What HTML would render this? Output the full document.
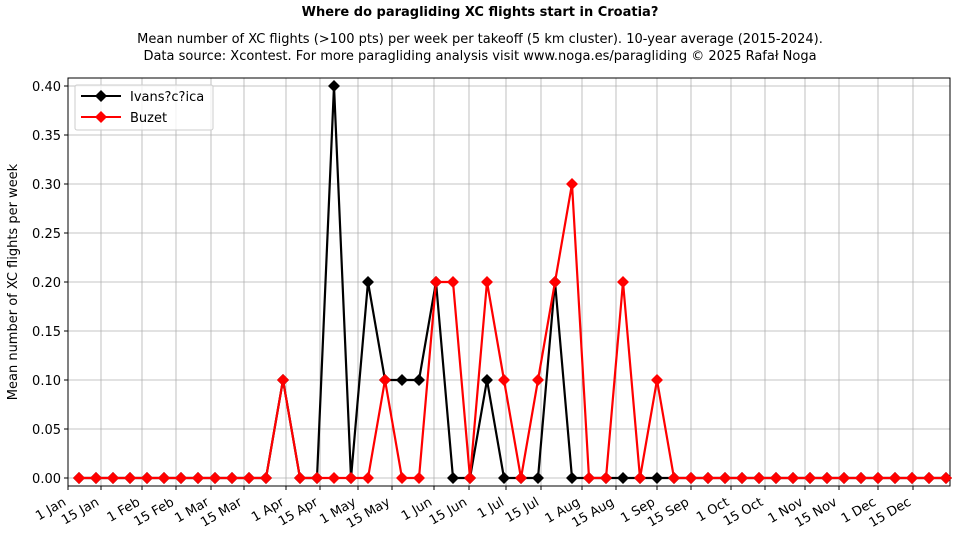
<!DOCTYPE html>
<html><head><meta charset="utf-8"><style>body{margin:0;background:#fff}svg{display:block}</style></head><body>
<svg width="960" height="540" xmlns="http://www.w3.org/2000/svg" font-family="'DejaVu Sans','Liberation Sans',sans-serif">
<text x="480" y="16" text-anchor="middle" font-size="13" font-weight="bold">Where do paragliding XC flights start in Croatia?</text>
<text x="480" y="43" text-anchor="middle" font-size="13">Mean number of XC flights (&gt;100 pts) per week per takeoff (5 km cluster). 10-year average (2015-2024).</text>
<text x="480" y="60" text-anchor="middle" font-size="13">Data source: Xcontest. For more paragliding analysis visit www.noga.es/paragliding © 2025 Rafał Noga</text>
<g id="grid" stroke="#b0b0b0" stroke-width="0.8"></g>
<g id="ticks" font-size="13"></g>
<rect x="68" y="78" width="882" height="408" fill="none" stroke="#000" stroke-width="1"/>
<text transform="translate(17,282) rotate(-90)" text-anchor="middle" font-size="13">Mean number of XC flights per week</text>
<g id="series"></g>
<rect x="75" y="85" width="138" height="45" fill="#fff" fill-opacity="0.8" stroke="#ccc" rx="2"/>
<line x1="81" y1="96" x2="121" y2="96" stroke="#000" stroke-width="2"/><path d="M101 90l6 6-6 6-6-6z" fill="#000"/>
<text x="130" y="101" font-size="13">Ivans?c?ica</text>
<line x1="81" y1="117" x2="121" y2="117" stroke="red" stroke-width="2"/><path d="M101 111l6 6-6 6-6-6z" fill="red"/>
<text x="130" y="122" font-size="13">Buzet</text>
</svg>
<script>
const NS="http://www.w3.org/2000/svg";
function el(p,t,a,txt){const e=document.createElementNS(NS,t);for(const k in a)e.setAttribute(k,a[k]);if(txt!==undefined)e.textContent=txt;document.getElementById(p).appendChild(e);return e;}
const Y=v=>478-v*980;
for(let i=0;i<=8;i++){const v=i*0.05,y=Y(v);el('grid','line',{x1:68,x2:950,y1:y,y2:y});
el('ticks','line',{x1:64,x2:68,y1:y,y2:y,stroke:'#000'});el('ticks','text',{x:61,y:y+5,'text-anchor':'end'},v.toFixed(2));}
const xt=[[68,'1 Jan'],[101,'15 Jan'],[142,'1 Feb'],[176,'15 Feb'],[211,'1 Mar'],[244,'15 Mar'],[286,'1 Apr'],[320,'15 Apr'],[358,'1 May'],[392,'15 May'],[434,'1 Jun'],[469,'15 Jun'],[506,'1 Jul'],[541,'15 Jul'],[582,'1 Aug'],[616,'15 Aug'],[657,'1 Sep'],[691,'15 Sep'],[731,'1 Oct'],[765,'15 Oct'],[805,'1 Nov'],[839,'15 Nov'],[878,'1 Dec'],[913,'15 Dec']];
xt.forEach(([x,l])=>{el('grid','line',{x1:x,x2:x,y1:78,y2:486});el('ticks','line',{x1:x,x2:x,y1:486,y2:490,stroke:'#000'});
const ax=x-6,ay=496;
el('ticks','text',{x:ax,y:ay,dy:'0.75em','text-anchor':'end',transform:`rotate(-30 ${ax} ${ay})`},l);});
const X=i=>79+17*i;
function series(m,c){const d=[];for(let i=0;i<52;i++)d.push([X(i),Y(m[i]||0)]);
el('series','polyline',{points:d.map(p=>p.join(',')).join(' '),fill:'none',stroke:c,'stroke-width':2.2});
d.forEach(([x,y])=>el('series','path',{d:`M${x} ${y-6}l6 6-6 6-6-6z`,fill:c}));}
series({12:.1,15:.4,17:.2,18:.1,19:.1,20:.1,21:.2,24:.1,28:.2},'#000');
series({12:.1,18:.1,21:.2,22:.2,24:.2,25:.1,27:.1,28:.2,29:.3,32:.2,34:.1},'red');
</script>
</body></html>
